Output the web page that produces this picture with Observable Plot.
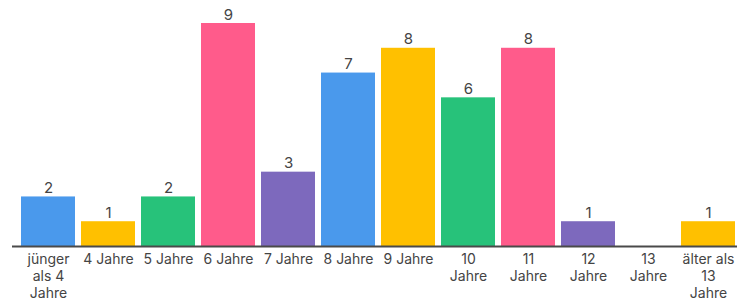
<!DOCTYPE html>
<html>
<head>
<meta charset="utf-8">
<script src="https://cdn.jsdelivr.net/npm/d3@7"></script>
<script src="https://cdn.jsdelivr.net/npm/@observablehq/plot@0.6"></script>
<style>
  html, body { margin: 0; padding: 0; background: #fff; }
  #chart svg { display: block; }
</style>
</head>
<body>
<div id="chart"></div>
<script>
const categories = ["jünger als 4 Jahre", "4 Jahre", "5 Jahre", "6 Jahre", "7 Jahre", "8 Jahre", "9 Jahre", "10 Jahre", "11 Jahre", "12 Jahre", "13 Jahre", "älter als 13 Jahre"];
const tickLabels = ["jünger\nals 4\nJahre", "4 Jahre", "5 Jahre", "6 Jahre", "7 Jahre", "8 Jahre", "9 Jahre", "10\nJahre", "11\nJahre", "12\nJahre", "13\nJahre", "älter als\n13\nJahre"];
const values = [2, 1, 2, 9, 3, 7, 8, 6, 8, 1, 0, 1];
const palette = ["#4a99ec", "#ffc000", "#27c27a", "#ff5b8b", "#7d69bd"];

const data = categories.map((c, i) => ({category: c, value: values[i], color: palette[i % palette.length]}));
const labelOf = new Map(categories.map((c, i) => [c, tickLabels[i]]));

const chart = Plot.plot({
  width: 737,
  height: 304,
  marginLeft: 12,
  marginRight: 0,
  marginTop: 0,
  marginBottom: 58,
  style: {fontFamily: "Inter, Roboto, sans-serif", background: "#fff"},
  x: {domain: categories, range: [18, 738], paddingInner: 0.1, paddingOuter: 0.05, label: null},
  y: {domain: [0, 9], range: [246, 23], axis: null},
  marks: [
    Plot.barY(data, {x: "category", y: "value", fill: "color"}),
    Plot.ruleY([0], {stroke: "#4a4a4a", strokeWidth: 2}),
    Plot.text(data.filter(d => d.value > 0), {x: "category", y: "value", text: d => String(d.value), lineAnchor: "bottom", dy: -4, fontSize: 15, fill: "#444"}),
    Plot.axisX({tickSize: 0, tickPadding: 6, fontSize: 14, lineHeight: 1.2, fill: "#444", tickFormat: d => labelOf.get(d), label: null})
  ]
});
document.getElementById("chart").appendChild(chart);
</script>
</body>
</html>
